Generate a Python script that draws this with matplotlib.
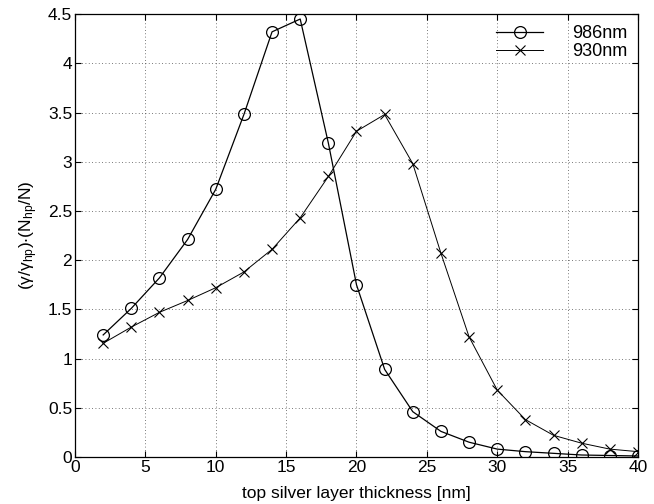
import numpy as np
import matplotlib
matplotlib.use('Agg')
import matplotlib.pyplot as plt

plt.rcParams['font.family'] = ['Liberation Sans', 'DejaVu Sans']
plt.rcParams['mathtext.default'] = 'regular'

# top silver layer thickness [nm]
thickness = [2, 4, 6, 8, 10, 12, 14, 16, 18, 20, 22, 24, 26, 28, 30, 32, 34, 36, 38, 40]
ratio_986 = [1.24, 1.51, 1.82, 2.21, 2.72, 3.48, 4.32, 4.45, 3.19, 1.75, 0.89, 0.46,
             0.26, 0.15, 0.08, 0.054, 0.037, 0.02, 0.015, 0.01]
ratio_930 = [1.155, 1.32, 1.47, 1.59, 1.72, 1.88, 2.11, 2.43, 2.85, 3.31, 3.48, 2.98,
             2.07, 1.22, 0.68, 0.38, 0.22, 0.14, 0.08, 0.054]
xticks = [0, 5, 10, 15, 20, 25, 30, 35, 40]
yticks = [0, 0.5, 1, 1.5, 2, 2.5, 3, 3.5, 4, 4.5]

fig = plt.figure(figsize=(6.54, 5.04), dpi=100)
ax = fig.add_axes([0.1147, 0.0933, 0.8608, 0.8787])

ax.plot(thickness, ratio_986, color='black', lw=0.9, marker='o', ms=8.5,
        mfc='none', mew=0.9, label='986nm')
ax.plot(thickness, ratio_930, color='black', lw=0.7, marker='x', ms=7,
        mew=0.8, label='930nm')

ax.set_xlim(0, 40)
ax.set_ylim(0, 4.5)
ax.set_xticks(xticks)
ax.set_yticks(yticks)
ax.set_yticklabels(['0', '0.5', '1', '1.5', '2', '2.5', '3', '3.5', '4', '4.5'])
ax.tick_params(direction='in', top=True, right=True, labelsize=12.5, length=4, pad=2)
ax.grid(True, linestyle=(0, (1, 3)), color='black', lw=0.6, alpha=0.7)
for s in ax.spines.values():
    s.set_linewidth(0.9)

ax.set_xlabel('top silver layer thickness [nm]', fontsize=12.5, labelpad=8)
ax.set_ylabel(r'$(\gamma/\gamma_{hp}){\cdot}(N_{hp}/N)$', fontsize=12.5, labelpad=6)

leg = ax.legend(loc='upper right', frameon=False, fontsize=13, handlelength=2.6,
                borderaxespad=0.2, handletextpad=1.6, labelspacing=0.05)

fig.savefig('out.png', dpi=100)
